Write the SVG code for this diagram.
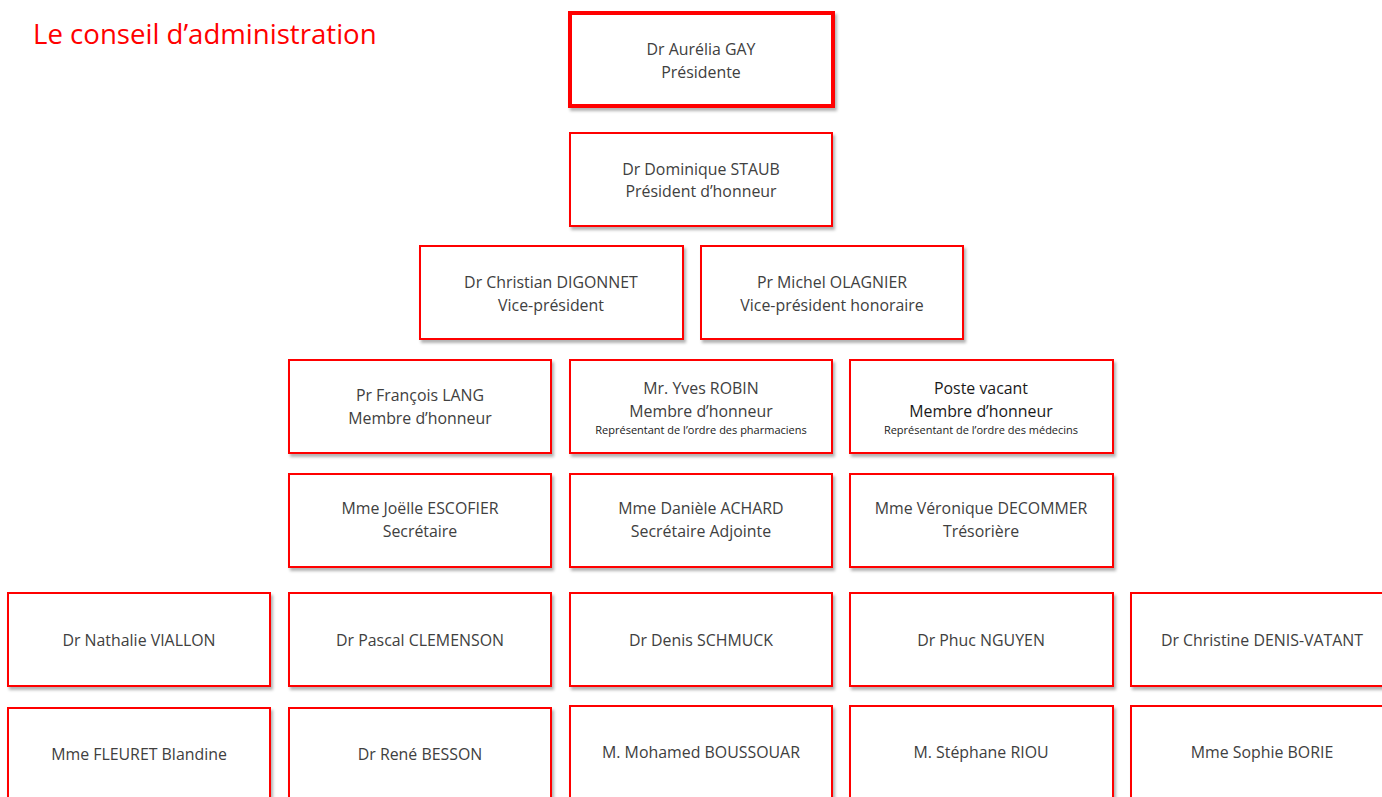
<svg xmlns="http://www.w3.org/2000/svg" width="1382" height="797" viewBox="0 0 1382 797">
<style>
.b{fill:#fff;stroke:#f00;stroke-width:2;filter:url(#sh)}
.t{font-family:"Open Sans","Liberation Sans",sans-serif;font-size:15.9px;fill:#404040;text-anchor:middle}
.s{font-family:"Open Sans","Liberation Sans",sans-serif;font-size:11px;fill:#202020;text-anchor:middle}
.k{fill:#1a1a1a}
</style>
<defs>
<filter id="sh" x="-5%" y="-5%" width="115%" height="120%">
<feDropShadow dx="2" dy="3" stdDeviation="1.5" flood-color="#000" flood-opacity="0.3"/>
</filter>
</defs>
<rect width="1382" height="797" fill="#fff"/>
<text x="33" y="44" font-family="Open Sans,Liberation Sans,sans-serif" font-size="27.6" fill="#f00">Le conseil d’administration</text>
<g id="gay"><rect class="b" x="570" y="13" width="263" height="93" style="stroke-width:4"/><text class="t" x="701" y="55">Dr Aurélia GAY</text><text class="t" x="701" y="78">Présidente</text></g>
<g id="staub"><rect class="b" x="570" y="133" width="262" height="93"/><text class="t" x="701" y="175">Dr Dominique STAUB</text><text class="t" x="701" y="197">Président d’honneur</text></g>
<g id="digonnet"><rect class="b" x="420" y="246" width="263" height="93"/><text class="t" x="551" y="288">Dr Christian DIGONNET</text><text class="t" x="551" y="311">Vice-président</text></g>
<g id="olagnier"><rect class="b" x="701" y="246" width="262" height="93"/><text class="t" x="832" y="288">Pr Michel OLAGNIER</text><text class="t" x="832" y="311">Vice-président honoraire</text></g>
<g id="lang"><rect class="b" x="289" y="360" width="262" height="93"/><text class="t" x="420" y="401">Pr François LANG</text><text class="t" x="420" y="424">Membre d’honneur</text></g>
<g id="robin"><rect class="b" x="570" y="360" width="262" height="93"/><text class="t" x="701" y="394">Mr. Yves ROBIN</text><text class="t" x="701" y="417">Membre d’honneur</text><text class="s" x="701" y="434">Représentant de l’ordre des pharmaciens</text></g>
<g id="vacant"><rect class="b" x="850" y="360" width="263" height="93"/><text class="t k" x="981" y="394">Poste vacant</text><text class="t k" x="981" y="417">Membre d’honneur</text><text class="s k" x="981" y="434">Représentant de l’ordre des médecins</text></g>
<g id="escofier"><rect class="b" x="289" y="474" width="262" height="93"/><text class="t" x="420" y="514">Mme Joëlle ESCOFIER</text><text class="t" x="420" y="537">Secrétaire</text></g>
<g id="achard"><rect class="b" x="570" y="474" width="262" height="93"/><text class="t" x="701" y="514">Mme Danièle ACHARD</text><text class="t" x="701" y="537">Secrétaire Adjointe</text></g>
<g id="decommer"><rect class="b" x="850" y="474" width="263" height="93"/><text class="t" x="981" y="514">Mme Véronique DECOMMER</text><text class="t" x="981" y="537">Trésorière</text></g>
<g id="viallon"><rect class="b" x="8" y="593" width="262" height="93"/><text class="t" x="139" y="646">Dr Nathalie VIALLON</text></g>
<g id="clemenson"><rect class="b" x="289" y="593" width="262" height="93"/><text class="t" x="420" y="646">Dr Pascal CLEMENSON</text></g>
<g id="schmuck"><rect class="b" x="570" y="593" width="262" height="93"/><text class="t" x="701" y="646">Dr Denis SCHMUCK</text></g>
<g id="nguyen"><rect class="b" x="850" y="593" width="263" height="93"/><text class="t" x="981" y="646">Dr Phuc NGUYEN</text></g>
<g id="denis"><rect class="b" x="1131" y="593" width="262" height="93"/><text class="t" x="1262" y="646">Dr Christine DENIS-VATANT</text></g>
<g id="fleuret"><rect class="b" x="8" y="708" width="262" height="100"/><text class="t" x="139" y="760">Mme FLEURET Blandine</text></g>
<g id="besson"><rect class="b" x="289" y="708" width="262" height="100"/><text class="t" x="420" y="760">Dr René BESSON</text></g>
<g id="boussouar"><rect class="b" x="570" y="706" width="262" height="100"/><text class="t" x="701" y="758">M. Mohamed BOUSSOUAR</text></g>
<g id="riou"><rect class="b" x="850" y="706" width="263" height="100"/><text class="t" x="981" y="758">M. Stéphane RIOU</text></g>
<g id="borie"><rect class="b" x="1131" y="706" width="262" height="100"/><text class="t" x="1262" y="758">Mme Sophie BORIE</text></g>
<g id="connectors"></g>
</svg>
